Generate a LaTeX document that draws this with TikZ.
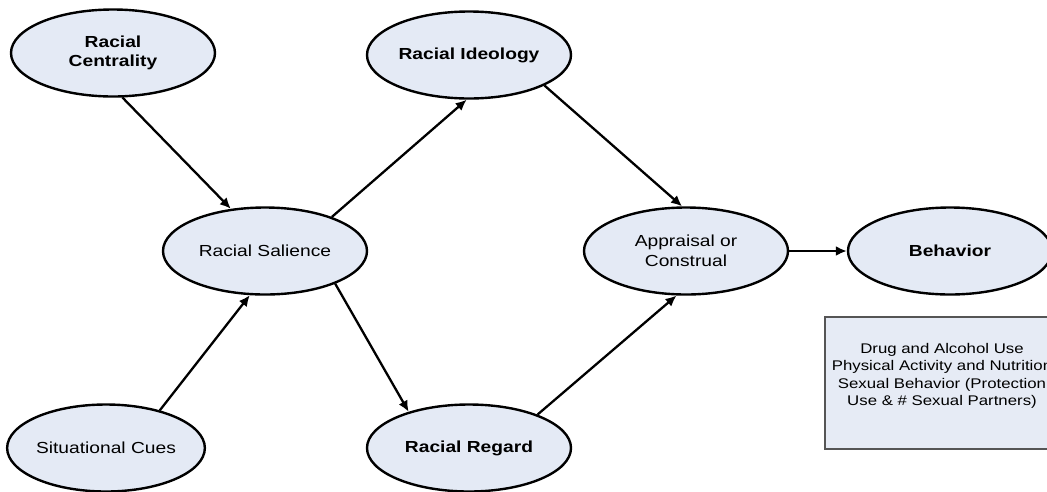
\documentclass[tikz,border=0pt]{standalone}
\usepackage{fontspec}
\setmainfont[FakeStretch=1.2]{Liberation Sans}
\usetikzlibrary{shapes.geometric,arrows.meta}

\definecolor{ovalfill}{HTML}{E4EAF5}
\definecolor{boxfill}{HTML}{E6EBF5}
\definecolor{boxline}{HTML}{555555}

\tikzset{
  oval/.style={ellipse, draw, line width=2.4pt, fill=ovalfill,
    minimum width=204pt, minimum height=87pt, inner sep=0pt,
    align=center, font=\fontsize{16}{19.5}\selectfont},
  link/.style={line width=2.3pt, -{Latex[length=11pt,width=10pt]}}
}

\begin{document}
\begin{tikzpicture}[x=1pt, y=-1pt]
\useasboundingbox (0,0) rectangle (1047,491);
\clip (0,0) rectangle (1047,491);

\node[oval] (cent) at (113,53) {\textbf{Racial}\\\textbf{Centrality}};
\node[oval] (ideo) at (469,55) {\textbf{Racial Ideology}};
\node[oval] (sal) at (265,251) {Racial Salience};
\node[oval] (appr) at (686,251) {Appraisal or\\Construal};
\node[oval] (beh) at (950,251) {\textbf{Behavior}};
\node[oval, minimum width=194pt] (sit) at (106,448) {Situational Cues};
\node[oval] (reg) at (469,448) {\textbf{Racial Regard}};

\draw[link] (cent.282) -- (sal.129);
\draw[link] (sal.27) -- (ideo.267);
\draw[link] (ideo.338) -- (appr.95);
\draw[link] (appr.east) -- (beh.west);
\draw[link] (sit.35) -- (sal.251);
\draw[link] (sal.335) -- (reg.149);
\draw[link] (reg.26) -- (appr.258);

% outcome list
\node[draw=boxline, line width=1.2pt, fill=boxfill,
  minimum width=234pt, minimum height=132pt] (outbox) at (942,383) {};
\node[align=center, font=\fontsize{14}{17.4}\selectfont] (outtext)
  at ([yshift=7pt]outbox.center)
  {Drug and Alcohol Use\\Physical Activity and Nutrition\\
   Sexual Behavior (Protection\\Use \& \# Sexual Partners)};
\end{tikzpicture}
\end{document}
